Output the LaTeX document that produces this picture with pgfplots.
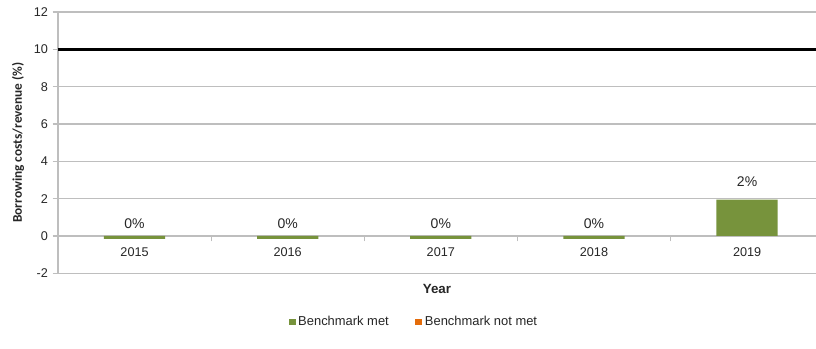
\documentclass[border=0pt]{standalone}
\usepackage{pgfplots}
\pgfplotsset{compat=1.18}
\usepackage{fontspec}
\setmainfont{Liberation Sans}
\newfontfamily\calfont{Carlito}
\definecolor{bmgreen}{HTML}{77933C}
\definecolor{bmorange}{HTML}{E46C0A}
\definecolor{gridgray}{HTML}{BEBEBE}
\definecolor{txt}{HTML}{262626}
\begin{document}
\begin{tikzpicture}
\begin{axis}[
  scale only axis,
  width=568.5pt, height=196pt,
  xmin=-0.5, xmax=4.45,
  ymin=-2, ymax=12,
  axis x line=middle, axis y line=left,
  axis line style={-, gridgray, line width=0.8pt},
  xtick={0,1,2,3,4},
  xticklabels={2015,2016,2017,2018,2019},
  major x tick style={draw=none},
  minor xtick={0.5,1.5,2.5,3.5},
  minor x tick style={gridgray, line width=0.8pt},
  minor tick length=4pt,
  xticklabel style={below, yshift=-1pt},
  ytick={-2,0,...,12},
  ymajorgrids,
  grid style={gridgray, line width=0.8pt},
  major y tick style={gridgray, line width=0.8pt},
  major tick length=4pt,
  tick align=outside,
  tick label style={font=\fontsize{9.5}{11}\selectfont, text=txt},
  /pgf/number format/assume math mode=true,
  ylabel={\calfont\bfseries Borrowing costs/revenue (\%)},
  ylabel style={font=\fontsize{10}{12}\selectfont, text=txt, at={(axis description cs:-0.0528,0.5)}, anchor=center},
  xlabel={\textbf{Year}},
  xlabel style={font=\fontsize{10}{12}\selectfont, text=txt, at={(axis description cs:0.5,0)}, anchor=north, yshift=-5pt},
  legend style={at={(axis description cs:0.47,0)}, anchor=north, yshift=-28pt, draw=none, legend columns=2, font=\fontsize{9.7}{11}\selectfont, text=txt, /tikz/every even column/.append style={column sep=18pt}},
  legend image code/.code={\fill[#1] (0cm,-0.09cm) rectangle (0.18cm,0.09cm);},
  clip=false,
]
\addplot[ybar, bar width=0.4, fill=bmgreen, draw=none] coordinates {(0,-0.15) (1,-0.15) (2,-0.15) (3,-0.15) (4,1.95)};
\addlegendentry{Benchmark met}
\addlegendimage{fill=bmorange, draw=none}
\addlegendentry{Benchmark not met}
\addplot[black, line width=2.2pt, forget plot] coordinates {(-0.5,10) (4.45,10)};
\addplot[only marks, mark=none, forget plot, point meta=explicit symbolic, nodes near coords, every node near coord/.append style={anchor=center, font=\fontsize{10.5}{12}\selectfont, text=txt}] coordinates {(0,0.67)[0\%] (1,0.67)[0\%] (2,0.67)[0\%] (3,0.67)[0\%] (4,2.92)[2\%]};
\end{axis}
\pgfresetboundingbox
\path ([shift={(-43.5pt,-56.25pt)}]current axis.south west) rectangle ([shift={(0pt,9pt)}]current axis.north east);
\end{tikzpicture}
\end{document}
